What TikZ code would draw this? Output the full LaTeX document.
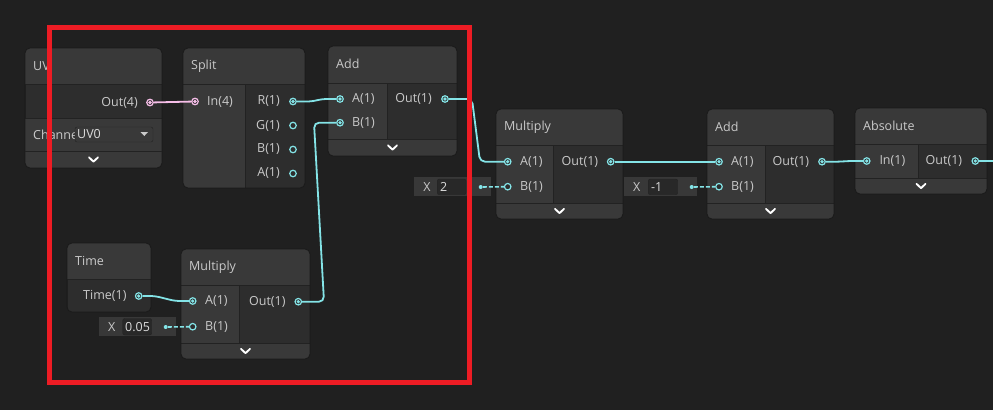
\documentclass[tikz,border=0pt]{standalone}
\usepackage{fontspec}
\setmainfont{Open Sans}
\usepackage{tikz}
\usepackage{xcolor}
\usetikzlibrary{positioning, calc}
\definecolor{cBg}{RGB}{32,32,32}
\definecolor{cHead}{RGB}{57,57,57}
\definecolor{cOut}{RGB}{45,45,45}
\definecolor{cSep}{RGB}{34,34,34}
\definecolor{cRim}{RGB}{26,26,26}
\definecolor{cText}{RGB}{202,202,202}
\definecolor{cValue}{RGB}{220,220,220}
\definecolor{cCyan}{RGB}{132,228,231}
\definecolor{cPink}{RGB}{246,190,232}
\definecolor{cField}{RGB}{56,56,56}
\definecolor{cFieldIn}{RGB}{40,40,40}
\definecolor{cRed}{RGB}{237,28,36}
\tikzset{
	port/.style   ={circle, draw=cCyan, line width=1.2pt, fill=cOut, minimum size=6.5pt, inner sep=0pt},
	porton/.style ={port, path picture={\fill[cCyan] (path picture bounding box.center) circle (1.8pt);}},
	pinkport/.style={port, draw=cPink, path picture={\fill[cPink] (path picture bounding box.center) circle (1.8pt);}},
	dot/.style    ={circle, fill=cCyan, minimum size=4pt, inner sep=0pt},
	lbl/.style    ={text=cText, inner sep=0pt},
	title/.style  ={text=cText, inner sep=0pt, anchor=west},
	edge/.style   ={cCyan, line width=1.8pt, rounded corners=5pt},
	fieldlink/.style={cCyan, line width=1.6pt, dash pattern=on 4pt off 2pt},
	chevron/.pic  ={\draw[white, line width=1.8pt, line cap=round, line join=round] (-4.5,-2.2) -- (0,2.2) -- (4.5,-2.2);},
}
% x0, y0, x1, y1, header bottom, column split, body bottom
\newcommand{\shaderbox}[7]{%
	\begin{scope}
		\clip[rounded corners=5pt] (#1,#2) rectangle (#3,#4);
		\fill[cHead] (#1,#2) rectangle (#3,#4);
		\fill[cOut] (#6,#5) rectangle (#3,#7);
		\draw[cSep, line width=1pt] (#1,#5) -- (#3,#5) (#6,#5) -- (#6,#7) (#1,#7) -- (#3,#7);
	\end{scope}
	\draw[cRim, line width=0.8pt, rounded corners=5pt] (#1,#2) rectangle (#3,#4);
}

\begin{document}
\begin{tikzpicture}[x=1pt, y=-1pt, font=\fontsize{12.5}{14}\selectfont]
	\fill[cBg] (0,0) rectangle (993,410);
	\useasboundingbox (0,0) rectangle (993,410);

	% node bodies
	\shaderbox{25}{48}{162}{168}{84}{25}{118}
	\draw[cSep, line width=1pt] (25,151) -- (162,151);
	\shaderbox{183}{48}{305}{188}{84}{245}{188}
	\shaderbox{328}{46}{457}{156}{83}{387}{139}
	\shaderbox{496}{109}{623}{219}{145}{553}{203}
	\shaderbox{707}{109}{834}{219}{145}{765}{203}
	\shaderbox{855}{108}{987}{194}{144}{918}{178}
	\shaderbox{67}{243}{151}{312}{279}{67}{312}
	\shaderbox{181}{249}{310}{359}{285}{239}{343}

	% expander chevrons
	\pic at (93.5,159.5) {chevron};
	\pic at (392.5,147.5) {chevron};
	\pic at (559.5,211) {chevron};
	\pic at (770.5,211) {chevron};
	\pic at (921,186) {chevron};
	\pic at (245.5,351) {chevron};

	% titles
	\node[title] (tUV) at (33,66) {UV};
	\node[title] (tSplit) at (191,66) {Split};
	\node[title] (tAdd) at (336,64) {Add};
	\node[title] (tMulM) at (504,127) {Multiply};
	\node[title] (tAddR) at (715,127) {Add};
	\node[title] (tAbs) at (863,126) {Absolute};
	\node[title] (tTime) at (75,261) {Time};
	\node[title] (tMulB) at (189,267) {Multiply};

	% UV node
	\node[lbl, anchor=east] (uvOutL) at (138,102.5) {Out(4)};
	\node[pinkport] (uvOut) at (150,102.5) {};
	\begin{scope}
		\clip (30,120) rectangle (74.5,150);
		\node[lbl, anchor=west] (uvChan) at (33,134.5) {Channel};
	\end{scope}
	\draw[cSep, fill=cHead, rounded corners=2pt] (75,127) rectangle (153,142);
	\node[lbl, anchor=west, text=cValue] (uvSel) at (77,134.5) {UV0};
	\fill[cText] (140.5,132) -- (148,132) -- (144.3,136) -- cycle;

	% Split node
	\node[pinkport] (splitIn) at (195,101.5) {};
	\node[lbl, anchor=west] (splitInL) at (207,101.5) {In(4)};
	\node[porton] (splitR) at (293,101.5) {};
	\node[port] (splitG) at (293,125.5) {};
	\node[port] (splitB) at (293,149.5) {};
	\node[port] (splitA) at (293,173.5) {};
	\node[lbl, anchor=east] (splitRL) at (280,101.5) {R(1)};
	\node[lbl, anchor=east] (splitGL) at (280,125.5) {G(1)};
	\node[lbl, anchor=east] (splitBL) at (280,149.5) {B(1)};
	\node[lbl, anchor=east] (splitAL) at (280,173.5) {A(1)};

	% Add node (top)
	\node[porton] (addA) at (340,99) {};
	\node[porton] (addB) at (340,122.7) {};
	\node[lbl, anchor=west] (addAL) at (352,99) {A(1)};
	\node[lbl, anchor=west] (addBL) at (352,122.7) {B(1)};
	\node[lbl, anchor=east] (addOutL) at (432,99) {Out(1)};
	\node[porton] (addOut) at (445,99) {};

	% Multiply node (middle)
	\node[porton] (mulA) at (507.7,161.7) {};
	\node[port] (mulB) at (507.7,186.7) {};
	\node[lbl, anchor=west] (mulAL) at (520,161.7) {A(1)};
	\node[lbl, anchor=west] (mulBL) at (520,186.7) {B(1)};
	\node[lbl, anchor=east] (mulOutL) at (598.3,161.7) {Out(1)};
	\node[porton] (mulOut) at (610.7,161.7) {};

	% Add node (right)
	\node[porton] (sumA) at (719,161.7) {};
	\node[port] (sumB) at (719,186.7) {};
	\node[lbl, anchor=west] (sumAL) at (731,161.7) {A(1)};
	\node[lbl, anchor=west] (sumBL) at (731,186.7) {B(1)};
	\node[lbl, anchor=east] (sumOutL) at (809.3,161.7) {Out(1)};
	\node[porton] (sumOut) at (822,161.7) {};

	% Absolute node
	\node[porton] (absIn) at (866.7,161) {};
	\node[lbl, anchor=west] (absInL) at (879.3,161) {In(1)};
	\node[lbl, anchor=east] (absOutL) at (962.3,161) {Out(1)};
	\node[porton] (absOut) at (975.3,161) {};
	\coordinate (absEnd) at (993,161);

	% Time node
	\node[lbl, anchor=east] (timeOutL) at (126.7,296) {Time(1)};
	\node[porton] (timeOut) at (138.7,296) {};

	% Multiply node (bottom)
	\node[porton] (scaleA) at (192.7,301) {};
	\node[port] (scaleB) at (192.7,326.7) {};
	\node[lbl, anchor=west] (scaleAL) at (205,301) {A(1)};
	\node[lbl, anchor=west] (scaleBL) at (205,326.7) {B(1)};
	\node[lbl, anchor=east] (scaleOutL) at (285.7,301.7) {Out(1)};
	\node[porton] (scaleOut) at (298.3,301.7) {};

	% inline value fields
	\fill[cField] (414,177.3) rectangle (490.7,196);
	\node[lbl] (fTwoX) at (427,186.7) {X};
	\draw[cSep, fill=cFieldIn, rounded corners=2pt] (437.3,179) rectangle (466,194.7);
	\node[lbl, anchor=west, text=cValue] (fTwoV) at (440,186.7) {2};
	\node[dot] (fTwo) at (480.7,187) {};

	\fill[cField] (624,177.3) rectangle (697,196);
	\node[lbl] (fNegX) at (636.7,186.7) {X};
	\draw[cSep, fill=cFieldIn, rounded corners=2pt] (648.3,179) rectangle (677.7,194.7);
	\node[lbl, anchor=west, text=cValue] (fNegV) at (651,186.7) {-1};
	\node[dot] (fNeg) at (691.7,187) {};

	\fill[cField] (99,317.3) rectangle (176,336);
	\node[lbl] (fSmallX) at (111.7,326.7) {X};
	\draw[cSep, fill=cFieldIn, rounded corners=2pt] (122.7,318.5) rectangle (151.7,335);
	\begin{scope}
		\clip (122.7,318.5) rectangle (151,335);
		\node[lbl, anchor=west, text=cValue] (fSmallV) at (125,326.7) {0.05};
	\end{scope}
	\node[dot] (fSmall) at (165.7,327) {};

	% connections
	\draw[cPink, line width=1.8pt] (uvOut) -- (splitIn);
	\draw[edge] (splitR) -- (312,101.5) -- (322,99) -- (addA);
	\draw[edge] (scaleOut) -- (324,301.7) -- (314,122.7) -- (addB);
	\draw[edge] (addOut) -- (472,99) -- (480,161.7) -- (mulA);
	\draw[edge] (mulOut) -- (sumA);
	\draw[edge] (sumOut) -- (840,161.7) -- (848,161) -- (absIn);
	\draw[edge] (absOut) -- (absEnd);
	\draw[edge] (timeOut) -- (155,296) -- (175,301) -- (scaleA);
	\draw[fieldlink] (fTwo) -- (mulB);
	\draw[fieldlink] (fNeg) -- (sumB);
	\draw[fieldlink] (fSmall) -- (scaleB);

	% highlight frame
	\draw[cRed, line width=5pt] (49.5,27.5) rectangle (469.5,382.5);
\end{tikzpicture}
\end{document}
